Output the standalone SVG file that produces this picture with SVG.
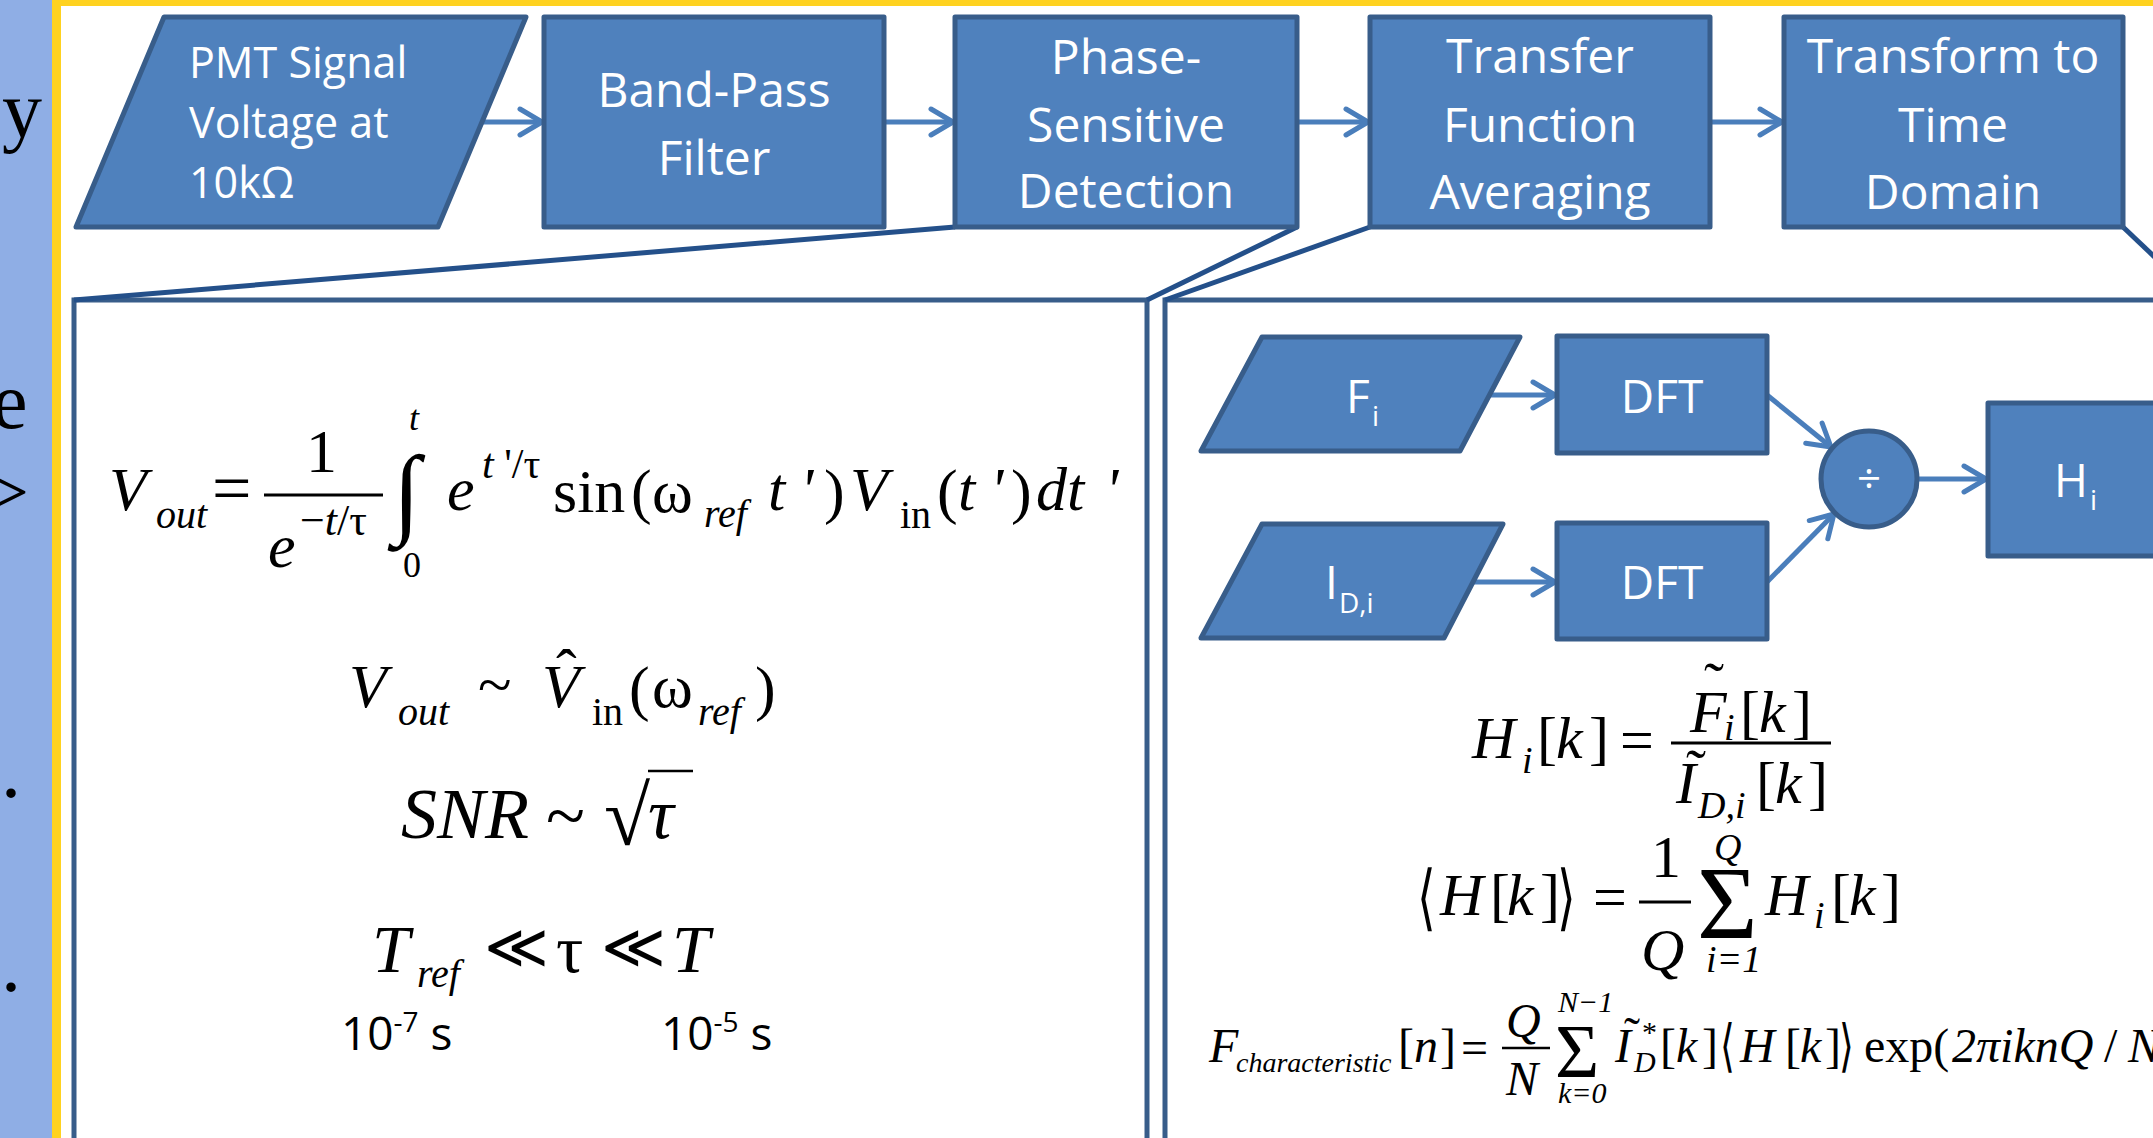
<svg xmlns="http://www.w3.org/2000/svg" width="2153" height="1138" viewBox="0 0 2153 1138">
<defs>
<marker id="arr" viewBox="0 0 28 32" refX="25" refY="16" markerWidth="28" markerHeight="32" markerUnits="userSpaceOnUse" orient="auto">
<path d="M3,3 L25,16 L3,29" fill="none" stroke="#4A7EBB" stroke-width="5" stroke-linecap="round" stroke-linejoin="round"/>
</marker>
<style>
.box{fill:#4F81BD;stroke:#385D8A;stroke-width:5;stroke-linejoin:round}
.lbl{font-family:"Open Sans","Noto Sans",sans-serif;fill:#fff;font-size:48px;text-anchor:middle}
.lbs{font-family:"Open Sans","Noto Sans",sans-serif;fill:#fff}
.arrow{stroke:#4A7EBB;stroke-width:5;fill:none;marker-end:url(#arr)}
.zoom{stroke:#24508A;stroke-width:5;fill:none}
.panel{fill:#fff;stroke:#385D8A;stroke-width:5}
.m{font-family:"Liberation Serif","Times New Roman",serif;fill:#000}
.i{font-style:italic}
.sans{font-family:"Open Sans","Noto Sans",sans-serif;fill:#000}
.bar{stroke:#000;stroke-width:3}
.ang{font-family:"DejaVu Serif",serif;fill:#000}
</style>
</defs>
<rect x="0" y="0" width="2153" height="1138" fill="#fff"/>
<g id="slide-edge">
<rect x="0" y="0" width="52" height="1138" fill="#8FAEE5"/>
<rect x="52" y="0" width="9" height="1138" fill="#FFD21F"/>
<rect x="52" y="0" width="2101" height="6" fill="#FFD21F"/>
<text class="m" font-size="80" x="2" y="137">y</text>
<text class="m" font-size="80" x="-8" y="428">e</text>
<text class="m" font-size="80" x="-16" y="519">&gt;</text>
<text class="m" font-size="80" x="1" y="797">.</text>
<text class="m" font-size="80" x="1" y="991">.</text>
</g>
<g id="panel-psd"><rect class="panel" x="74" y="300" width="1073" height="900"/></g>
<g id="panel-tfa"><rect class="panel" x="1165" y="300" width="1100" height="900"/></g>
<g id="connectors">
<line class="zoom" x1="74" y1="300" x2="955" y2="227"/>
<line class="zoom" x1="1297" y1="227" x2="1147" y2="300"/>
<line class="zoom" x1="1370" y1="227" x2="1165" y2="300"/>
<line class="zoom" x1="2123" y1="227" x2="2200" y2="300"/>
<line class="arrow" x1="482" y1="122" x2="542" y2="122"/>
<line class="arrow" x1="884" y1="122" x2="953" y2="122"/>
<line class="arrow" x1="1297" y1="122" x2="1368" y2="122"/>
<line class="arrow" x1="1710" y1="122" x2="1782" y2="122"/>
<line class="arrow" x1="1489" y1="395" x2="1555" y2="395"/>
<line class="arrow" x1="1474" y1="582" x2="1555" y2="582"/>
<line class="arrow" x1="1767" y1="395" x2="1831" y2="447"/>
<line class="arrow" x1="1767" y1="582" x2="1834" y2="514"/>
<line class="arrow" x1="1917" y1="479" x2="1986" y2="479"/>
</g>
<g id="pmt">
<polygon class="box" points="164,17 526,17 438,227 76,227"/>
<text class="lbs" font-size="43" x="189" y="78">PMT Signal</text>
<text class="lbs" font-size="43" x="189" y="138">Voltage at</text>
<text class="lbs" font-size="43" x="189" y="198">10kΩ</text>
</g>
<g id="bandpass">
<rect class="box" x="544" y="17" width="340" height="210"/>
<text class="lbl" x="714" y="107">Band-Pass</text>
<text class="lbl" x="714" y="175">Filter</text>
</g>
<g id="psd">
<rect class="box" x="955" y="17" width="342" height="210"/>
<text class="lbl" x="1126" y="74">Phase-</text>
<text class="lbl" x="1126" y="142">Sensitive</text>
<text class="lbl" x="1126" y="208">Detection</text>
</g>
<g id="tfa">
<rect class="box" x="1370" y="17" width="340" height="210"/>
<text class="lbl" x="1540" y="73">Transfer</text>
<text class="lbl" x="1540" y="142">Function</text>
<text class="lbl" x="1540" y="209">Averaging</text>
</g>
<g id="ttd">
<rect class="box" x="1784" y="17" width="339" height="210"/>
<text class="lbl" x="1953" y="73">Transform to</text>
<text class="lbl" x="1953" y="142">Time</text>
<text class="lbl" x="1953" y="209">Domain</text>
</g>
<g id="fi">
<polygon class="box" points="1262,337 1520,337 1460,451 1201,451"/>
<text class="lbs" font-size="46" x="1346" y="413">F</text>
<text class="lbs" font-size="28" x="1372" y="426">i</text>
</g>
<g id="dft1">
<rect class="box" x="1557" y="336" width="210" height="117"/>
<text class="lbl" style="font-size:46px" x="1662" y="413">DFT</text>
</g>
<g id="idi">
<polygon class="box" points="1262,524 1503,524 1444,638 1201,638"/>
<text class="lbs" font-size="46" x="1325" y="599">I</text>
<text class="lbs" font-size="28" x="1339" y="613">D,i</text>
</g>
<g id="dft2">
<rect class="box" x="1557" y="523" width="210" height="116"/>
<text class="lbl" style="font-size:46px" x="1662" y="599">DFT</text>
</g>
<g id="divide">
<circle class="box" cx="1869" cy="479" r="48"/>
<text class="lbl" style="font-size:42px" x="1869" y="493">÷</text>
</g>
<g id="hi">
<rect class="box" x="1988" y="403" width="300" height="153"/>
<text class="lbs" font-size="46" x="2054" y="497">H</text>
<text class="lbs" font-size="28" x="2090" y="510">i</text>
</g>
<g id="eq-psd">
<text class="m i" font-size="62" x="109" y="510">V</text>
<text class="m i" font-size="40" x="156" y="528">out</text>
<text class="m" font-size="70" x="212" y="512">=</text>
<line class="bar" x1="264" y1="495" x2="383" y2="495"/>
<text class="m" font-size="62" x="306" y="472">1</text>
<text class="m i" font-size="62" x="268" y="567">e</text>
<text class="m" font-size="44" x="300" y="535">−<tspan font-style="italic">t</tspan>/τ</text>
<text class="m" font-size="100" x="393" y="525">∫</text>
<text class="m i" font-size="36" x="409" y="430">t</text>
<text class="m" font-size="36" x="403" y="577">0</text>
<text class="m i" font-size="62" x="447" y="510">e</text>
<text class="m" font-size="42" x="482" y="478"><tspan font-style="italic">t</tspan> '/τ</text>
<text class="m" font-size="62" x="553" y="512">sin</text>
<text class="m" font-size="62" x="631" y="512">(</text>
<text class="m" font-size="62" x="652" y="512">ω</text>
<text class="m i" font-size="40" x="704" y="527">ref</text>
<text class="m i" font-size="62" x="768" y="510">t</text>
<text class="m i" font-size="62" x="800" y="510">'</text>
<text class="m" font-size="62" x="824" y="512">)</text>
<text class="m i" font-size="62" x="850" y="510">V</text>
<text class="m" font-size="40" x="900" y="528">in</text>
<text class="m" font-size="62" x="937" y="512">(</text>
<text class="m i" font-size="62" x="958" y="510">t</text>
<text class="m i" font-size="62" x="990" y="510">'</text>
<text class="m" font-size="62" x="1011" y="512">)</text>
<text class="m i" font-size="62" x="1036" y="510">dt</text>
<text class="m i" font-size="62" x="1105" y="510">'</text>

<text class="m i" font-size="62" x="349" y="707">V</text>
<text class="m i" font-size="40" x="398" y="725">out</text>
<text class="m" font-size="62" x="478" y="705">~</text>
<text class="m i" font-size="62" x="542" y="707">V</text>
<text class="m" font-size="62" x="556" y="692">ˆ</text>
<text class="m" font-size="40" x="592" y="725">in</text>
<text class="m" font-size="62" x="629" y="709">(</text>
<text class="m" font-size="62" x="652" y="707">ω</text>
<text class="m i" font-size="40" x="698" y="725">ref</text>
<text class="m" font-size="62" x="755" y="709">)</text>

<text class="m i" font-size="72" x="401" y="838">SNR</text>
<text class="m" font-size="72" x="546" y="840">~</text>
<text class="m" font-size="84" x="604" y="845">√</text>
<line class="bar" x1="648" y1="771" x2="693" y2="771" style="stroke-width:2.5"/>
<text class="m i" font-size="72" x="648" y="838">τ</text>

<text class="m i" font-size="68" x="372" y="972">T</text>
<text class="m i" font-size="40" x="417" y="987">ref</text>
<text class="m" font-size="62" x="484" y="968">≪</text>
<text class="m" font-size="68" x="556" y="972">τ</text>
<text class="m" font-size="62" x="601" y="968">≪</text>
<text class="m i" font-size="68" x="672" y="972">T</text>

<text class="sans" font-size="46" x="341" y="1050">10<tspan font-size="28" dy="-18">-7</tspan><tspan dy="18"> s</tspan></text>
<text class="sans" font-size="46" x="661" y="1050">10<tspan font-size="28" dy="-18">-5</tspan><tspan dy="18"> s</tspan></text>
</g>
<g id="eq-tfa">
<text class="m i" font-size="60" x="1472" y="758">H</text>
<text class="m i" font-size="38" x="1522" y="773">i</text>
<text class="m" font-size="60" x="1537" y="758">[</text>
<text class="m i" font-size="60" x="1556" y="758">k</text>
<text class="m" font-size="60" x="1589" y="758">]</text>
<text class="m" font-size="60" x="1620" y="760">=</text>
<line class="bar" x1="1671" y1="743" x2="1831" y2="743"/>
<text class="m i" font-size="60" x="1690" y="732">F</text>
<text class="m" font-size="60" x="1704" y="703">˜</text>
<text class="m i" font-size="38" x="1724" y="740">i</text>
<text class="m" font-size="60" x="1740" y="732">[</text>
<text class="m i" font-size="60" x="1759" y="732">k</text>
<text class="m" font-size="60" x="1792" y="732">]</text>
<text class="m i" font-size="60" x="1676" y="803">I</text>
<text class="m" font-size="60" x="1686" y="790">˜</text>
<text class="m i" font-size="38" x="1698" y="818">D,i</text>
<text class="m" font-size="60" x="1756" y="803">[</text>
<text class="m i" font-size="60" x="1775" y="803">k</text>
<text class="m" font-size="60" x="1808" y="803">]</text>

<text class="ang" font-size="48" transform="matrix(1,0,0,1.5,1417,922)">⟨</text>
<text class="m i" font-size="60" x="1440" y="915">H</text>
<text class="m" font-size="60" x="1490" y="915">[</text>
<text class="m i" font-size="60" x="1507" y="915">k</text>
<text class="m" font-size="60" x="1540" y="915">]</text>
<text class="ang" font-size="48" transform="matrix(1,0,0,1.5,1557,922)">⟩</text>
<text class="m" font-size="60" x="1593" y="917">=</text>
<text class="m" font-size="60" x="1651" y="877">1</text>
<line class="bar" x1="1639" y1="902" x2="1691" y2="902"/>
<text class="m i" font-size="60" x="1641" y="970">Q</text>
<text class="m i" font-size="38" x="1714" y="860">Q</text>
<text class="m" font-size="104" x="1697" y="938">Σ</text>
<text class="m i" font-size="38" x="1706" y="972">i=1</text>
<text class="m i" font-size="60" x="1765" y="915">H</text>
<text class="m i" font-size="38" x="1814" y="928">i</text>
<text class="m" font-size="60" x="1831" y="915">[</text>
<text class="m i" font-size="60" x="1849" y="915">k</text>
<text class="m" font-size="60" x="1881" y="915">]</text>

<text class="m i" font-size="48" x="1209" y="1062">F</text>
<text class="m i" font-size="28" x="1236" y="1072">characteristic</text>
<text class="m" font-size="48" x="1398" y="1062">[</text>
<text class="m i" font-size="48" x="1414" y="1062">n</text>
<text class="m" font-size="48" x="1440" y="1062">]</text>
<text class="m" font-size="48" x="1461" y="1064">=</text>
<text class="m i" font-size="48" x="1506" y="1037">Q</text>
<line class="bar" x1="1502" y1="1048" x2="1550" y2="1048" style="stroke-width:2.5"/>
<text class="m i" font-size="48" x="1506" y="1095">N</text>
<text class="m" font-size="76" x="1555" y="1077">Σ</text>
<text class="m i" font-size="30" x="1558" y="1012">N−1</text>
<text class="m i" font-size="30" x="1558" y="1103">k=0</text>
<text class="m i" font-size="48" x="1615" y="1062">I</text>
<text class="m" font-size="48" x="1624" y="1051">˜</text>
<text class="m" font-size="30" x="1642" y="1042">*</text>
<text class="m i" font-size="30" x="1634" y="1072">D</text>
<text class="m" font-size="48" x="1660" y="1062">[</text>
<text class="m i" font-size="48" x="1676" y="1062">k</text>
<text class="m" font-size="48" x="1702" y="1062">]</text>
<text class="ang" font-size="38" transform="matrix(1,0,0,1.5,1720,1065)">⟨</text>
<text class="m i" font-size="48" x="1740" y="1062">H</text>
<text class="m" font-size="48" x="1785" y="1062">[</text>
<text class="m i" font-size="48" x="1800" y="1062">k</text>
<text class="m" font-size="48" x="1825" y="1062">]</text>
<text class="ang" font-size="38" transform="matrix(1,0,0,1.5,1839,1065)">⟩</text>
<text class="m" font-size="48" x="1864" y="1062">exp(</text>
<text class="m i" font-size="48" x="1952" y="1062">2πiknQ</text>
<text class="m" font-size="48" x="2104" y="1062">/</text>
<text class="m i" font-size="48" x="2128" y="1062">N</text>
</g>
</svg>
